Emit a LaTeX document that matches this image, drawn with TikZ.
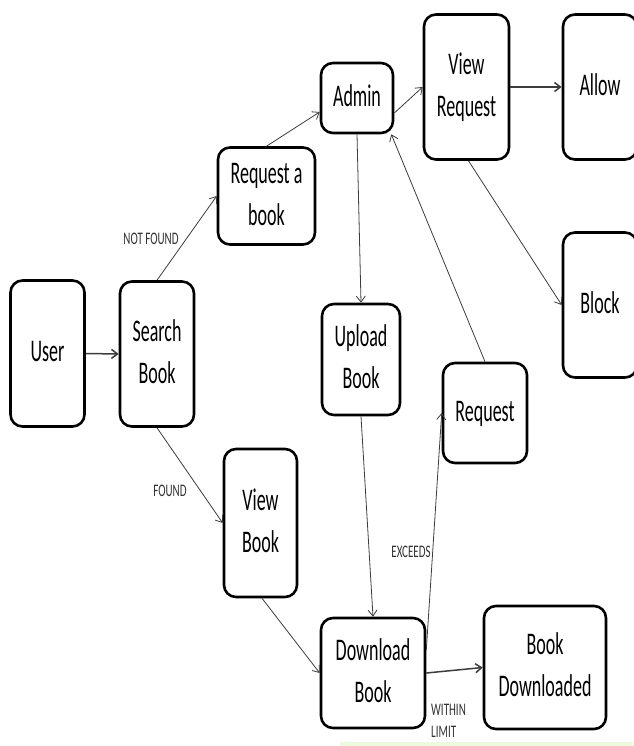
\documentclass[tikz,border=0pt]{standalone}
\usepackage{fontspec}
\setmainfont{Carlito}
\usetikzlibrary{arrows.meta}
\definecolor{edgegray}{RGB}{60,60,60}
\definecolor{labelgray}{RGB}{50,50,50}
\definecolor{faintgreen}{RGB}{236,250,222}
\newcommand\boxtxt[1]{\scalebox{1}[1.75]{\begin{tabular}{@{}c@{}}#1\end{tabular}}}
\newcommand\lbltxt[1]{\scalebox{1}[1.6]{\begin{tabular}{@{}l@{}}#1\end{tabular}}}
\tikzset{
  flowbox/.style={draw=black, line width=2.6pt, rounded corners=12pt, fill=white,
    inner sep=0pt, font=\fontsize{18}{24}\selectfont},
  flowedge/.style={draw=edgegray, line width=0.8pt, -{Straight Barb[length=6pt,width=9pt]}},
  thickedge/.style={flowedge, line width=1.5pt},
  edgelabel/.style={font=\fontsize{11}{14}\selectfont, text=labelgray, inner sep=0pt}
}
\begin{document}
\begin{tikzpicture}[x=1pt,y=-1pt]
\useasboundingbox (0,0) rectangle (633,746);
\fill[faintgreen] (340,742) rectangle (633,746);

\node[flowbox, minimum width=74pt, minimum height=146pt] (user) at (47.5,353.5) {\boxtxt{User}};
\node[flowbox, minimum width=74pt, minimum height=145pt] (search) at (157,354) {\boxtxt{Search\\Book}};
\node[flowbox, minimum width=97pt, minimum height=97pt] (reqbook) at (266.5,196) {\boxtxt{Request a\\book}};
\node[flowbox, minimum width=72pt, minimum height=70pt] (admin) at (357,98) {\boxtxt{Admin}};
\node[flowbox, minimum width=85pt, minimum height=145pt] (viewreq) at (466.5,87) {\boxtxt{View\\Request}};
\node[flowbox, minimum width=74pt, minimum height=145pt] (allow) at (600,87) {\boxtxt{Allow}};
\node[flowbox, minimum width=74pt, minimum height=145pt] (block) at (600,305) {\boxtxt{Block}};
\node[flowbox, minimum width=78pt, minimum height=111pt] (upload) at (361,359.5) {\boxtxt{Upload\\Book}};
\node[flowbox, minimum width=84pt, minimum height=100pt] (request) at (485,413) {\boxtxt{Request}};
\node[flowbox, minimum width=73pt, minimum height=148pt] (viewbook) at (260.5,523) {\boxtxt{View\\Book}};
\node[flowbox, minimum width=104pt, minimum height=110pt] (download) at (373,673) {\boxtxt{Download\\Book}};
\node[flowbox, minimum width=122pt, minimum height=123pt] (bookdl) at (545,667.5) {\boxtxt{Book\\Downloaded}};

\draw[thickedge] (user.east) -- (search.west);
\draw[flowedge] (search.north) -- (reqbook.west);
\draw[flowedge] (reqbook.north) -- ([yshift=-14pt]admin.west);
\draw[flowedge] ([yshift=-15pt]admin.east) -- (viewreq.west);
\draw[thickedge] (viewreq.east) -- (allow.west);
\draw[flowedge] ([xshift=2pt]viewreq.south) -- (block.west);
\draw[flowedge] (admin.south) -- (upload.north);
\draw[flowedge] (request.north) -- ([xshift=-3pt]admin.south east);
\draw[flowedge] (upload.south) -- (download.north);
\draw[flowedge] ([yshift=23pt]download.east) -- (request.west);
\draw[thickedge] (download.east) -- (bookdl.west);
\draw[flowedge] ([xshift=1.5pt]viewbook.south) -- (download.west);
\draw[flowedge] (search.south) -- (viewbook.west);

\node[edgelabel] (lnotfound) at (151,240) {\lbltxt{NOT FOUND}};
\node[edgelabel] (lfound) at (170,492) {\lbltxt{FOUND}};
\node[edgelabel] (lexceeds) at (411,553) {\lbltxt{EXCEEDS}};
\node[edgelabel, anchor=west] (lwithin) at (431,722) {\lbltxt{WITHIN\\LIMIT}};
\end{tikzpicture}
\end{document}
